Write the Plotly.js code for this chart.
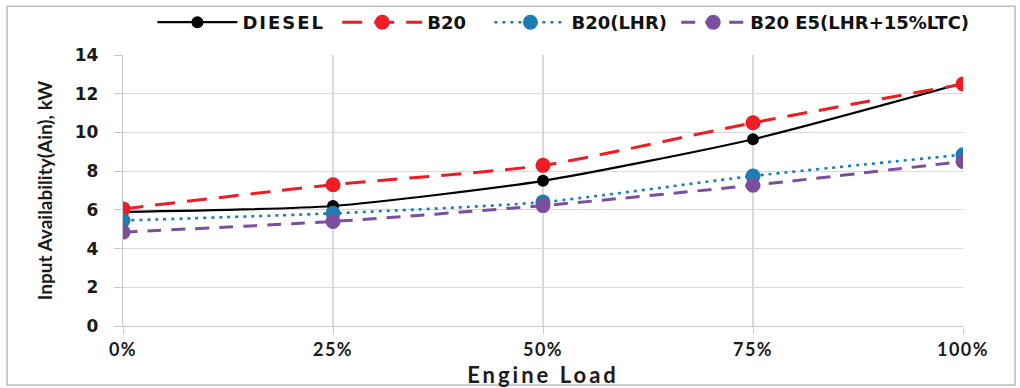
<!DOCTYPE html>
<html>
<head>
<meta charset="utf-8">
<script src="https://cdn.plot.ly/plotly-3.0.1.min.js"></script>
<style>
html,body{margin:0;padding:0;background:#fff;}
#chart{width:1020px;height:388px;}
.legendtext{letter-spacing:2px;}
.xtitle{letter-spacing:3px;}
.xtick text{letter-spacing:1.5px;}
</style>
</head>
<body>
<div id="chart"></div>
<script>
const loads = [0, 25, 50, 75, 100];
const tickLabels = ["0%", "25%", "50%", "75%", "100%"];
const seriesNames = ["DIESEL", "B20", "B20(LHR)", "B20 E5(LHR+15%LTC)"];
const diesel = [5.9, 6.2, 7.5, 9.65, 12.55];
const b20 = [6.05, 7.3, 8.3, 10.5, 12.5];
const b20lhr = [5.45, 5.82, 6.4, 7.75, 8.85];
const b20e5 = [4.85, 5.4, 6.22, 7.27, 8.5];

const styles = [
  {color: "#000000", dash: "solid", width: 2.2, msize: 12},
  {color: "#ee1c25", dash: "20px,12px", width: 3, msize: 15},
  {color: "#1b7db3", dash: "3px,5px", width: 2.6, msize: 15},
  {color: "#7b4f9d", dash: "14px,10px", width: 3, msize: 15}
];
const values = [diesel, b20, b20lhr, b20e5];
const legendIds = ["legend", "legend2", "legend3", "legend4"];
const legendX = [0.035, 0.255, 0.4362, 0.6586];
const legendItemW = [80, 80, 72, 64];

const traces = values.map((v, i) => ({
  x: loads, y: v, name: seriesNames[i], type: "scatter", mode: "lines+markers",
  legend: legendIds[i],
  line: {color: styles[i].color, dash: styles[i].dash, width: styles[i].width, shape: "spline", smoothing: 0.6},
  marker: {color: styles[i].color, size: styles[i].msize, symbol: "circle"}
}));

const legendFont = {family: "'DejaVu Sans', sans-serif", size: 18, color: "#111", weight: "bold"};

const layout = {
  width: 1020, height: 388,
  margin: {l: 123, r: 57, t: 55, b: 62, autoexpand: false},
  paper_bgcolor: "#ffffff", plot_bgcolor: "#ffffff",
  showlegend: true,
  xaxis: {
    range: [0, 100], tickvals: loads, ticktext: tickLabels,
    showgrid: true, gridcolor: "#d9d9d9", gridwidth: 1.2,
    zeroline: false, showline: true, linecolor: "#c8c8c8", linewidth: 1.2,
    ticks: "outside", ticklen: 7, tickcolor: "#c8c8c8",
    tickfont: {family: "Lato, sans-serif", size: 18, color: "#1a1a1a", weight: "bold"},
    title: {text: "Engine Load", font: {family: "Lato, sans-serif", size: 22, color: "#1a1a1a", weight: "bold"}, standoff: 8}
  },
  yaxis: {
    range: [0, 14], tickvals: [0, 2, 4, 6, 8, 10, 12, 14],
    showgrid: true, gridcolor: "#d9d9d9", gridwidth: 1.2,
    zeroline: false, showline: true, linecolor: "#c8c8c8", linewidth: 1.2,
    ticks: "outside", ticklen: 8, tickcolor: "#c8c8c8", ticklabelstandoff: 12,
    tickfont: {family: "'DejaVu Sans', sans-serif", size: 17, color: "#1a1a1a", weight: "bold"},
    title: {text: "Input Availability(Ain), kW", font: {family: "Lato, sans-serif", size: 19, color: "#1a1a1a", weight: "bold"}, standoff: 17}
  },
  shapes: [{type: "rect", xref: "paper", yref: "paper", x0: -0.138, x1: 1.062, y0: -0.218, y1: 1.18,
    line: {color: "#bdbdbd", width: 1.5}, fillcolor: "rgba(0,0,0,0)", layer: "below"}]
};
legendIds.forEach((id, i) => {
  layout[id] = {orientation: "h", x: legendX[i], xanchor: "left", y: 1.12, yanchor: "middle",
    font: legendFont, itemwidth: legendItemW[i], bgcolor: "rgba(0,0,0,0)"};
});

Plotly.newPlot("chart", traces, layout, {displayModeBar: false, staticPlot: true});
</script>
</body>
</html>
